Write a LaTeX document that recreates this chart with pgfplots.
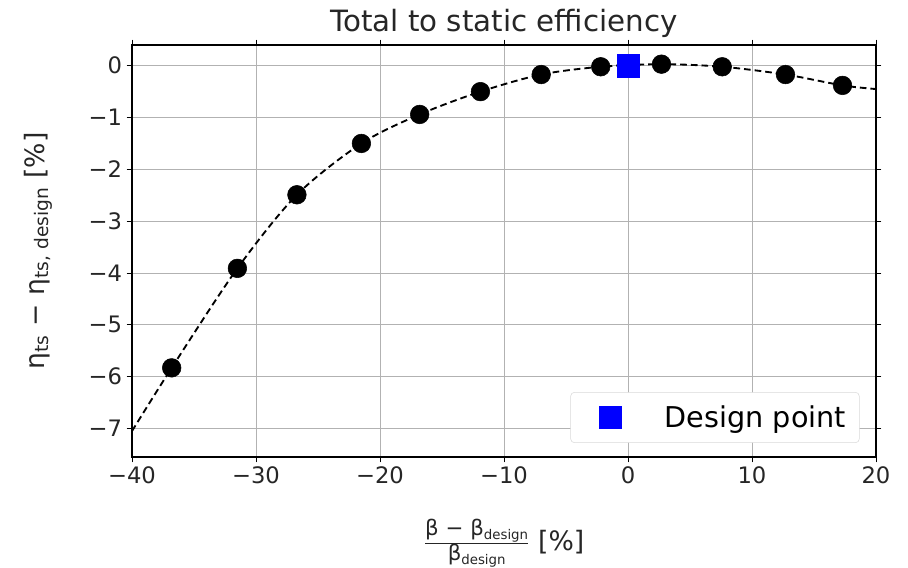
\documentclass[border=0pt]{standalone}
\usepackage{fontspec}
\setmainfont{DejaVu Sans}
\usepackage{pgfplots}
\pgfplotsset{compat=1.18}
\definecolor{pureblue}{rgb}{0,0,1}
\newcommand{\sub}[1]{\raisebox{-0.35ex}{\fontsize{10}{12}\selectfont #1}}
\begin{document}
\begin{tikzpicture}
\useasboundingbox (-99pt,-83.25pt) rectangle (582pt,342.75pt);
\begin{axis}[
  at={(0,0)}, anchor=south west,
  scale only axis, width=558pt, height=309pt,
  xmin=-40, xmax=20, ymin=-7.55, ymax=0.4,
  xtick={-40,-30,-20,-10,0,10,20},
  xticklabels={−40,−30,−20,−10,0,10,20},
  ytick={-7,-6,-5,-4,-3,-2,-1,0},
  yticklabels={−7,−6,−5,−4,−3,−2,−1,0},
  ticklabel style={font=\fontsize{17}{19}\selectfont, text=black!85},
  tick align=outside, major tick length=4pt,
  tick style={black, line width=0.6pt},
  axis line style={line width=0.8pt},
  grid=major, grid style={color=black!30, line width=0.7pt},
  title={Total to static efficiency},
  title style={font=\fontsize{22}{24}\selectfont, at={(axis description cs:0.5,1.061)}, anchor=center, yshift=-9pt, text=black!85},
  ylabel={η\textsubscript{ts} − η\textsubscript{ts, design} [\%]},
  ylabel style={font=\fontsize{20}{22}\selectfont, at={(axis description cs:-0.126,0.5)}, anchor=center, text=black!85},
  xlabel={$\frac{\mbox{\fontsize{16}{18}\selectfont β − β\sub{design}}}{\mbox{\fontsize{16}{18}\selectfont β\sub{design}}}$ [\%]},
  xlabel style={font=\fontsize{20}{22}\selectfont, at={(axis description cs:0.5,-0.21)}, anchor=center, text=black!85},
  legend style={font=\fontsize{21.5}{23}\selectfont, rounded corners=3pt, draw=black!15, fill=white, inner xsep=8pt, inner ysep=8pt, at={(0.978,0.034)}, anchor=south east},
  legend cell align=left,
]
\addplot[black, dash pattern=on 5pt off 3pt, line width=1.4pt, smooth, forget plot] coordinates {
(-40,-7.05) (-36.8,-5.83) (-31.5,-3.91) (-26.7,-2.49) (-21.5,-1.50) (-16.8,-0.94)
(-11.9,-0.50) (-7.0,-0.17) (-2.2,-0.02) (2.7,0.03) (7.6,-0.02) (12.7,-0.17) (17.3,-0.38) (20,-0.45)};
\addplot[only marks, mark=*, mark size=7pt, black, forget plot] coordinates {
(-36.8,-5.83) (-31.5,-3.91) (-26.7,-2.49) (-21.5,-1.50) (-16.8,-0.94)
(-11.9,-0.50) (-7.0,-0.17) (-2.2,-0.02) (2.7,0.03) (7.6,-0.02) (12.7,-0.17) (17.3,-0.38)};
\addplot[only marks, mark=square*, mark size=8.3pt, pureblue, mark options={draw=pureblue, fill=pureblue, solid},
  legend image code/.code={\path[draw=none,fill=none] (-13.5pt,0) -- (0.6cm,0); \draw[mark repeat=2,mark phase=2] plot coordinates {(0cm,0cm) (0.3cm,0cm) (0.6cm,0cm)};}] coordinates {(0,0)};
\addlegendentry{\hspace{1.4em}Design point}
\end{axis}
\end{tikzpicture}
\end{document}
